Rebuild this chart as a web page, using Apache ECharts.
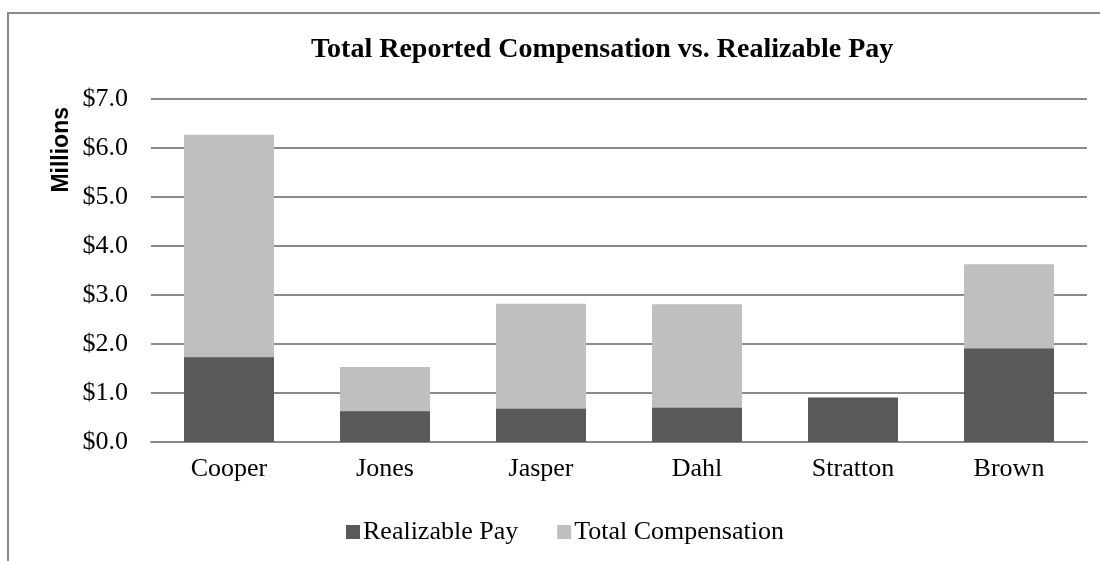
<!DOCTYPE html>
<html>
<head>
<meta charset="utf-8">
<script src="https://cdn.jsdelivr.net/npm/echarts@6/dist/echarts.min.js"></script>
<style>
  html, body { margin: 0; padding: 0; background: #fff; }
  #chart { width: 1100px; height: 561px; position: relative; }
  .frame {
    position: absolute; left: 7px; top: 12px; width: 1200px; height: 700px;
    border-left: 2px solid #8a8a8a; border-top: 2px solid #8a8a8a;
    pointer-events: none;
  }
</style>
</head>
<body>
<div id="chart"></div>
<div class="frame"></div>
<script>
const names = ["Cooper", "Jones", "Jasper", "Dahl", "Stratton", "Brown"];
const realizablePay = [1.73, 0.63, 0.68, 0.70, 0.91, 1.91];
const totalComp = [6.27, 1.53, 2.82, 2.81, 0.90, 3.63];
const yTicks = [0, 1, 2, 3, 4, 5, 6, 7];

const serif = "'Liberation Serif', 'Times New Roman', serif";
const chart = echarts.init(document.getElementById("chart"));
chart.setOption({
  animation: false,
  title: {
    text: "Total Reported Compensation vs. Realizable Pay",
    left: 306,
    top: 31,
    textStyle: { fontFamily: serif, fontSize: 28, fontWeight: "bold", color: "#000" },
  },
  legend: {
    data: ["Realizable Pay", "Total Compensation"],
    left: 341,
    top: 514,
    itemWidth: 14,
    itemHeight: 14,
    itemGap: 39,
    icon: "rect",
    textStyle: { fontFamily: serif, fontSize: 26, color: "#000", padding: [0, 0, 0, -2] },
  },
  grid: { left: 151, right: 13, top: 99, bottom: 119 },
  graphic: [
    {
      type: "text",
      left: 50,
      top: 107,
      rotation: Math.PI / 2,
      style: {
        text: "Millions",
        font: "bold 23px 'Liberation Sans', Arial, sans-serif",
        fill: "#000",
      },
    },
  ],
  xAxis: {
    type: "category",
    data: names,
    axisTick: { show: false },
    axisLine: { lineStyle: { color: "#8a8a8a", width: 2 } },
    axisLabel: { fontFamily: serif, fontSize: 26, color: "#000", margin: 14 },
  },
  yAxis: {
    type: "value",
    min: yTicks[0],
    max: yTicks[yTicks.length - 1],
    interval: 1,
    axisLine: { show: false },
    axisTick: { show: false },
    splitLine: { lineStyle: { color: "#8a8a8a", width: 2 } },
    axisLabel: {
      fontFamily: serif,
      fontSize: 26,
      color: "#000",
      margin: 23,
      formatter: (v) => "$" + v.toFixed(1),
    },
  },
  series: [
    {
      name: "Total Compensation",
      type: "bar",
      data: totalComp,
      barWidth: 90,
      itemStyle: { color: "#bfbfbf" },
    },
    {
      name: "Realizable Pay",
      type: "bar",
      data: realizablePay,
      barWidth: 90,
      barGap: "-100%",
      itemStyle: { color: "#595959" },
    },
  ],
});
</script>
</body>
</html>
